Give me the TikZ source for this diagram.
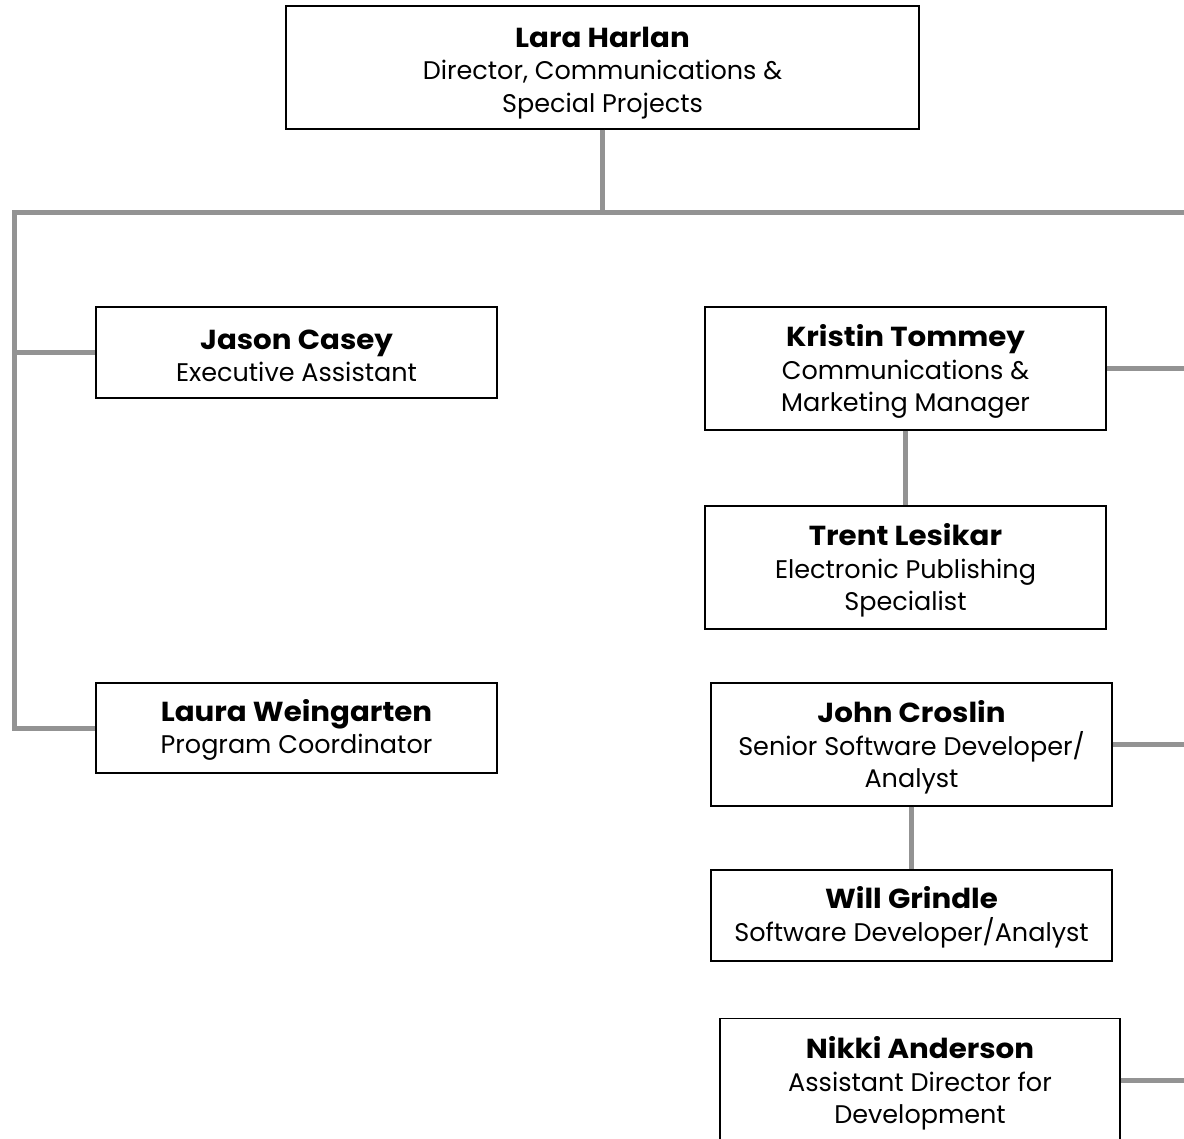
\documentclass[tikz,border=0pt]{standalone}
\usepackage{fontspec}
\setmainfont{Poppins}[BoldFeatures={FakeStretch=1.065}]
\definecolor{conngray}{HTML}{939393}
\tikzset{
  box/.style={draw=black, line width=1.4pt, fill=white, align=center, inner sep=0pt,
    font=\fontsize{25.5}{32.5}\selectfont},
  conn/.style={draw=conngray, line width=5pt, line join=miter},
}
\newcommand\nm[2][28.5pt]{{\fontsize{27.5}{32.5}\selectfont\bfseries\rule{0pt}{#1}#2}}
\begin{document}
\begin{tikzpicture}[x=1pt,y=-1pt]
\useasboundingbox (0,0) rectangle (1184,1139);
\clip (0,0) rectangle (1184,1139);
\coordinate (busL) at (14,213);
\coordinate (busR) at (1186,213);
\node[box, minimum width=633, minimum height=123] (lara) at (602.5,67.5)
  {\nm[31pt]{Lara Harlan}\\Director, Communications \&\\Special Projects};
\node[box, minimum width=401, minimum height=91] (jason) at (296.5,352.5)
  {\nm[26pt]{Jason Casey}\\Executive Assistant};
\node[box, minimum width=401, minimum height=90] (laura) at (296.5,728)
  {\nm[26pt]{Laura Weingarten}\\Program Coordinator};
\node[box, minimum width=401, minimum height=123] (kristin) at (905.5,368.5)
  {\nm{Kristin Tommey}\\Communications \&\\Marketing Manager};
\node[box, minimum width=401, minimum height=123] (trent) at (905.5,567.5)
  {\nm{Trent Lesikar}\\Electronic Publishing\\Specialist};
\node[box, minimum width=401, minimum height=123] (john) at (911.5,744.5)
  {\nm{John Croslin}\\Senior Software Developer/\\Analyst};
\node[box, minimum width=401, minimum height=91] (will) at (911.5,915.5)
  {\nm[26pt]{Will Grindle}\\Software Developer/Analyst};
\node[box, minimum width=400, minimum height=123, anchor=north] (nikki) at (920,1018)
  {\nm{Nikki Anderson}\\Assistant Director for\\Development};
\draw[conn] (lara.south) -- (lara.south |- busL);
\draw[conn] (busR) -- (busL) -- (busL |- laura.west) -- (laura.west);
\draw[conn] (busL |- jason.west) -- (jason.west);
\draw[conn] (kristin.east) -- (kristin.east -| busR);
\draw[conn] (kristin.south) -- (trent.north);
\draw[conn] (john.east) -- (john.east -| busR);
\draw[conn] (john.south) -- (will.north);
\draw[conn] (nikki.east) -- (nikki.east -| busR);
\end{tikzpicture}
\end{document}
